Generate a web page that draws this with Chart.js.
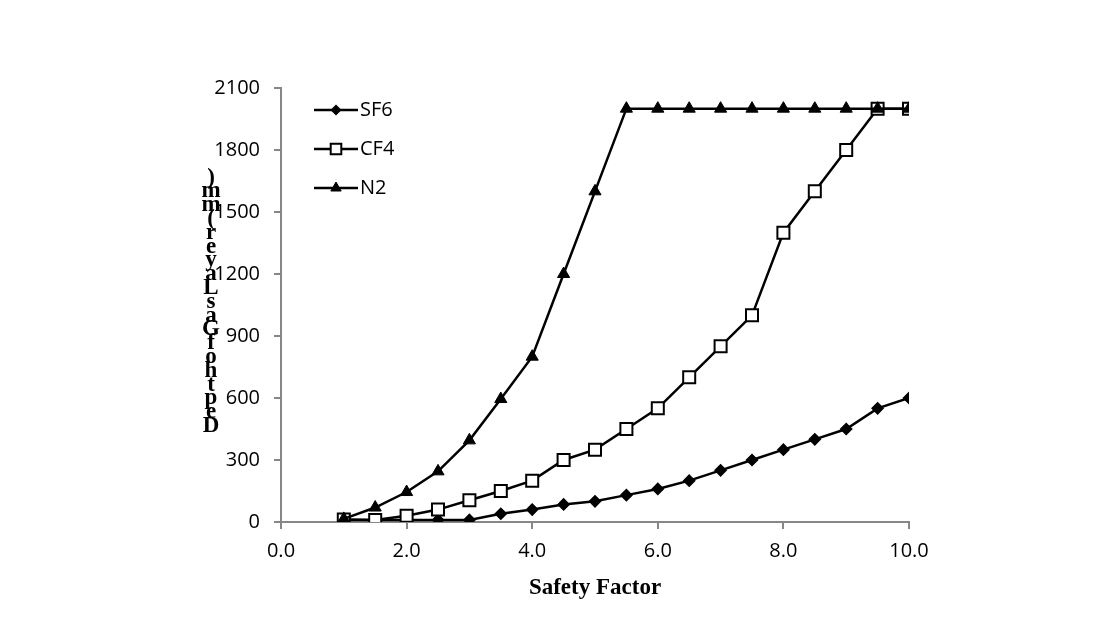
<!DOCTYPE html>
<html>
<head>
<meta charset="utf-8">
<script src="https://cdn.jsdelivr.net/npm/chart.js@4"></script>
<style>
  html, body { margin: 0; padding: 0; background: #fff; }
  #wrap { width: 1111px; height: 628px; }
</style>
</head>
<body>
<div id="wrap"><canvas id="depthChart" width="1111" height="628"></canvas></div>
<script>
// safety factor values (x)
const safetyFactor = [1, 1.5, 2, 2.5, 3, 3.5, 4, 4.5, 5, 5.5, 6, 6.5, 7, 7.5, 8, 8.5, 9, 9.5, 10];
// depth of gas layer (mm)
const sf6 = [10, 10, 10, 10, 10, 40, 60, 85, 100, 130, 160, 200, 250, 300, 350, 400, 450, 550, 600];
const cf4 = [12, 10, 30, 60, 105, 150, 200, 300, 350, 450, 550, 700, 850, 1000, 1400, 1600, 1800, 2000, 2000];
const n2 = [15, 70, 145, 245, 395, 595, 800, 1200, 1600, 2000, 2000, 2000, 2000, 2000, 2000, 2000, 2000, 2000, 2000];

const seriesNames = ['SF6', 'CF4', 'N2'];
const xTicks = [0, 2, 4, 6, 8, 10];
const yTicks = [0, 300, 600, 900, 1200, 1500, 1800, 2100];

const xTitle = 'Safety Factor';
const yTitle = 'Depth of Gas Layer (mm)';

const AXIS_GREY = '#878787';
const TICK_FONT = { family: '"Open Sans", sans-serif', size: 20 };

function toPoints(ys) {
    return ys.map((y, i) => ({ x: safetyFactor[i], y: y }));
}

const markerStyles = [
    { pointStyle: 'rectRot', radius: 5.5, backgroundColor: '#000', borderWidth: 1.5 },
    { pointStyle: 'rect', radius: 8.5, backgroundColor: '#fff', borderWidth: 2 },
    { pointStyle: 'triangle', radius: 7, backgroundColor: '#000', borderWidth: 1 }
];

const datasets = [sf6, cf4, n2].map((values, i) => ({
    label: seriesNames[i],
    data: toPoints(values),
    borderColor: '#000',
    borderWidth: 2.5,
    pointStyle: markerStyles[i].pointStyle,
    pointRadius: markerStyles[i].radius,
    pointBackgroundColor: markerStyles[i].backgroundColor,
    pointBorderColor: '#000',
    pointBorderWidth: markerStyles[i].borderWidth,
    tension: 0,
    order: 3 - i
}));

// legend drawn inside the plot, top-left
const insideLegend = {
    id: 'insideLegend',
    afterDraw(chart) {
        const ctx = chart.ctx;
        const rows = [110, 149, 188];
        ctx.save();
        seriesNames.forEach((name, i) => {
            const y = rows[i];
            ctx.strokeStyle = '#000';
            ctx.lineWidth = 2.5;
            ctx.beginPath();
            ctx.moveTo(314, y);
            ctx.lineTo(358, y);
            ctx.stroke();
            ctx.fillStyle = markerStyles[i].backgroundColor;
            ctx.lineWidth = markerStyles[i].borderWidth;
            Chart.helpers.drawPoint(ctx, {
                pointStyle: markerStyles[i].pointStyle,
                radius: markerStyles[i].radius - 1,
                rotation: 0,
                borderWidth: markerStyles[i].borderWidth
            }, 336, y);
            ctx.fillStyle = '#000';
            ctx.font = '20px "Open Sans", sans-serif';
            ctx.textAlign = 'left';
            ctx.textBaseline = 'middle';
            ctx.fillText(name, 360, y);
        });
        ctx.restore();
    }
};

// y title drawn as stacked upright letters, bottom to top
const stackedYTitle = {
    id: 'stackedYTitle',
    afterDraw(chart) {
        const ctx = chart.ctx;
        const chars = yTitle.replace(/ /g, '').split('');
        ctx.save();
        ctx.fillStyle = '#000';
        ctx.font = 'bold 23px "Liberation Serif", serif';
        ctx.textAlign = 'center';
        ctx.textBaseline = 'middle';
        chars.forEach((c, i) => {
            ctx.fillText(c, 211, 426 - i * 13.8);
        });
        ctx.restore();
    }
};

const ctx = document.getElementById('depthChart').getContext('2d');
new Chart(ctx, {
    type: 'line',
    data: { datasets: datasets },
    options: {
        responsive: false,
        animation: false,
        layout: { padding: { top: 88, right: 202, bottom: 0, left: 0 } },
        plugins: {
            legend: { display: false },
            tooltip: { enabled: false }
        },
        scales: {
            x: {
                type: 'linear',
                min: 0,
                max: 10,
                afterBuildTicks: scale => { scale.ticks = xTicks.map(v => ({ value: v })); },
                afterFit: scale => { scale.height = 106; },
                border: { color: AXIS_GREY, width: 2 },
                grid: { drawOnChartArea: false, drawTicks: true, tickLength: 7, color: AXIS_GREY, lineWidth: 2 },
                ticks: {
                    color: '#000',
                    font: TICK_FONT,
                    padding: 10,
                    maxRotation: 0,
                    callback: v => Number(v).toFixed(1)
                },
                title: {
                    display: true,
                    text: xTitle,
                    color: '#000',
                    font: { family: '"Liberation Serif", serif', size: 23, weight: 'bold' },
                    padding: { top: 0, bottom: 26 }
                }
            },
            y: {
                min: 0,
                max: 2100,
                afterBuildTicks: scale => { scale.ticks = yTicks.map(v => ({ value: v })); },
                afterFit: scale => { scale.width = 281; },
                border: { color: AXIS_GREY, width: 2 },
                grid: { drawOnChartArea: false, drawTicks: true, tickLength: 7, color: AXIS_GREY, lineWidth: 2 },
                ticks: {
                    color: '#000',
                    font: TICK_FONT,
                    padding: 14,
                    callback: v => String(v)
                }
            }
        }
    },
    plugins: [insideLegend, stackedYTitle]
});
</script>
</body>
</html>
